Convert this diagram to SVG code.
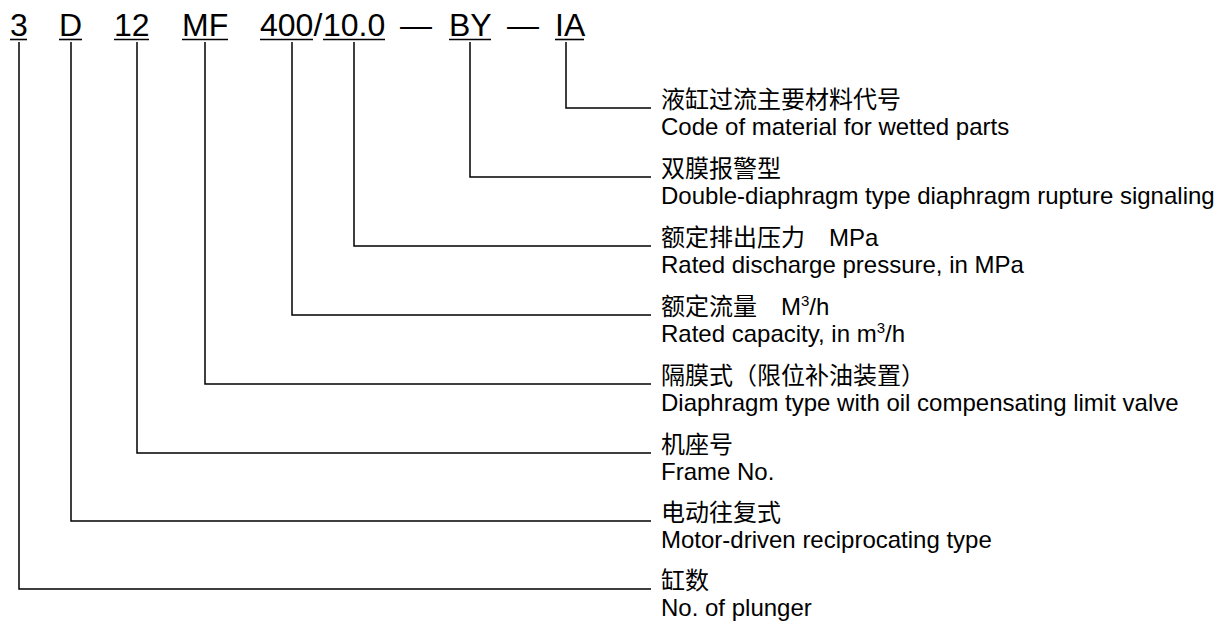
<svg xmlns="http://www.w3.org/2000/svg" width="1215" height="622" viewBox="0 0 1215 622">
<style>
.code{font-family:"Liberation Sans",Arial,sans-serif;font-size:32px;fill:#000}
.zh{font-family:"Liberation Sans","Noto Sans CJK SC",sans-serif;font-size:24px;fill:#000}
.en{font-family:"Liberation Sans",Arial,sans-serif;font-size:24px;fill:#000}
.ul{stroke:#000;stroke-width:1.6;fill:none}
.conn{stroke:#000;stroke-width:1.5;fill:none}
</style>
<rect width="1215" height="622" fill="#fff"/>
<g id="code">
  <g id="code-3"><text class="code" x="10" y="36">3</text><line class="ul" x1="10" y1="39.5" x2="27" y2="39.5"/></g>
  <g id="code-D"><text class="code" x="59" y="36">D</text><line class="ul" x1="59" y1="39.5" x2="82" y2="39.5"/></g>
  <g id="code-12"><text class="code" x="114" y="36">12</text><line class="ul" x1="114" y1="39.5" x2="149" y2="39.5"/></g>
  <g id="code-MF"><text class="code" x="182" y="36">MF</text><line class="ul" x1="182" y1="39.5" x2="228" y2="39.5"/></g>
  <g id="code-400"><text class="code" x="260" y="36">400</text><line class="ul" x1="260" y1="39.5" x2="313" y2="39.5"/></g>
  <text class="code" x="313.5" y="36">/</text>
  <g id="code-10"><text class="code" x="323" y="36">10.0</text><line class="ul" x1="323" y1="39.5" x2="385" y2="39.5"/></g>
  <text class="code" x="400" y="36">—</text>
  <g id="code-BY"><text class="code" x="449" y="36">BY</text><line class="ul" x1="449" y1="39.5" x2="491" y2="39.5"/></g>
  <text class="code" x="507" y="36">—</text>
  <g id="code-IA"><text class="code" x="555" y="36">IA</text><line class="ul" x1="555" y1="39.5" x2="584" y2="39.5"/></g>
</g>
<g id="connectors">
  <polyline class="conn" points="566,42 566,108 651,108"/>
  <polyline class="conn" points="470,42 470,177 651,177"/>
  <polyline class="conn" points="354,42 354,246 651,246"/>
  <polyline class="conn" points="292,42 292,315 651,315"/>
  <polyline class="conn" points="205,42 205,384 651,384"/>
  <polyline class="conn" points="137,42 137,453 651,453"/>
  <polyline class="conn" points="71,42 71,521 651,521"/>
  <polyline class="conn" points="19,42 19,589 651,589"/>
</g>
<g id="label-IA">
  <text class="zh" x="661" y="108">液缸过流主要材料代号</text>
  <text class="en" x="661" y="135">Code of material for wetted parts</text>
</g>
<g id="label-BY">
  <text class="zh" x="661" y="177">双膜报警型</text>
  <text class="en" x="661" y="204">Double-diaphragm type diaphragm rupture signaling</text>
</g>
<g id="label-10">
  <text class="zh" x="661" y="246">额定排出压力　MPa</text>
  <text class="en" x="661" y="273">Rated discharge pressure, in MPa</text>
</g>
<g id="label-400">
  <text class="zh" x="661" y="315">额定流量　M<tspan font-size="15" dy="-9">3</tspan><tspan dy="9">/h</tspan></text>
  <text class="en" x="661" y="342">Rated capacity, in m<tspan font-size="15" dy="-9">3</tspan><tspan dy="9">/h</tspan></text>
</g>
<g id="label-MF">
  <text class="zh" x="661" y="384">隔膜式（限位补油装置）</text>
  <text class="en" x="661" y="411">Diaphragm type with oil compensating limit valve</text>
</g>
<g id="label-12">
  <text class="zh" x="661" y="453">机座号</text>
  <text class="en" x="661" y="480">Frame No.</text>
</g>
<g id="label-D">
  <text class="zh" x="661" y="521">电动往复式</text>
  <text class="en" x="661" y="548">Motor-driven reciprocating type</text>
</g>
<g id="label-3">
  <text class="zh" x="661" y="589">缸数</text>
  <text class="en" x="661" y="616">No. of plunger</text>
</g>
</svg>
